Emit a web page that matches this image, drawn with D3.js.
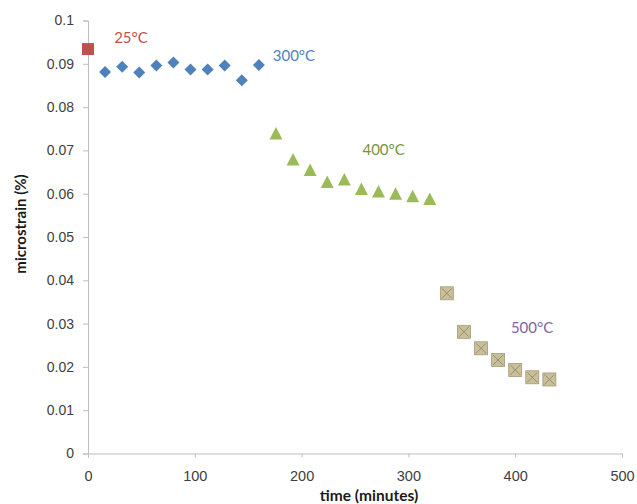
<!DOCTYPE html>
<html>
<head>
<meta charset="utf-8">
<script src="https://cdn.jsdelivr.net/npm/d3@7"></script>
<style>
  body { margin: 0; background: #fff; }
  svg { display: block; font-family: Lato, "Open Sans", sans-serif; }
</style>
</head>
<body>
<svg id="chart" width="637" height="504"></svg>
<script>
const svg = d3.select("#chart");

// data
const t25 = [0];
const s25 = [0.0934];

const t300 = [16, 32, 48, 64, 80, 96, 112, 128, 144, 160];
const s300 = [0.0881, 0.0893, 0.0880, 0.0896, 0.0903, 0.0887, 0.0887, 0.0896, 0.0862, 0.0897];

const t400 = [176, 192, 208, 224, 240, 256, 272, 288, 304, 320];
const s400 = [0.0739, 0.0679, 0.0655, 0.0627, 0.0633, 0.0611, 0.0605, 0.0600, 0.0594, 0.0588];

const t500 = [336, 352, 368, 384, 400, 416, 432];
const s500 = [0.0370, 0.0281, 0.0243, 0.0216, 0.0193, 0.0176, 0.0171];

const xTicks = [0, 100, 200, 300, 400, 500];
const yTicks = [0, 0.01, 0.02, 0.03, 0.04, 0.05, 0.06, 0.07, 0.08, 0.09, 0.1];

const labelText = ["25°C", "300°C", "400°C", "500°C"];
const labelT = [24.5, 173, 257, 396];
const labelS = [0.0957, 0.0916, 0.0699, 0.0288];
const labelColor = ["#c0504d", "#4f81bd", "#77933c", "#8064a2"];

const x = d3.scaleLinear().domain([0, 500]).range([88, 622]);
const y = d3.scaleLinear().domain([0, 0.1]).range([453.5, 20.5]);

const AXIS_COLOR = "#bfbfbf";
const TEXT_COLOR = "#404040";

// y axis
const yAxis = svg.append("g")
    .attr("transform", `translate(${x(0)},0)`)
    .call(d3.axisLeft(y).tickValues(yTicks).tickSize(5).tickPadding(9)
        .tickFormat(d => d3.format("~g")(d)));
yAxis.selectAll("path, line").attr("stroke", AXIS_COLOR);
yAxis.selectAll("text").attr("fill", TEXT_COLOR).style("font-size", "14px");

// x axis
const xAxis = svg.append("g")
    .attr("transform", `translate(0,${y(0)})`)
    .call(d3.axisBottom(x).tickValues(xTicks).tickSize(4).tickPadding(13));
xAxis.selectAll("path, line").attr("stroke", AXIS_COLOR);
xAxis.selectAll("text").attr("fill", TEXT_COLOR).style("font-size", "14.5px");

// axis titles
svg.append("text")
    .attr("transform", `translate(22,224) rotate(-90)`)
    .attr("text-anchor", "middle")
    .attr("dominant-baseline", "middle")
    .attr("fill", "#1a1a1a")
    .style("font-size", "15px")
    .style("font-weight", "bold")
    .text("microstrain (%)");

svg.append("text")
    .attr("x", 369)
    .attr("y", 501)
    .attr("text-anchor", "middle")
    .attr("fill", "#1a1a1a")
    .style("font-size", "15.5px")
    .style("font-weight", "bold")
    .text("time (minutes)");

const plot = svg.append("g");

// 25°C red square
plot.selectAll(".p25")
    .data(d3.zip(t25, s25))
    .join("rect")
    .attr("class", "p25")
    .attr("x", d => x(d[0]) - 6)
    .attr("y", d => y(d[1]) - 6)
    .attr("width", 12)
    .attr("height", 12)
    .attr("fill", "#c0504d");

// 300°C blue diamonds
plot.selectAll(".p300")
    .data(d3.zip(t300, s300))
    .join("path")
    .attr("class", "p300")
    .attr("transform", d => `translate(${x(d[0])},${y(d[1])})`)
    .attr("d", "M0,-6L6,0L0,6L-6,0Z")
    .attr("fill", "#4f81bd");

// 400°C green triangles
plot.selectAll(".p400")
    .data(d3.zip(t400, s400))
    .join("path")
    .attr("class", "p400")
    .attr("transform", d => `translate(${x(d[0])},${y(d[1])})`)
    .attr("d", "M0,-6.5L6.5,6L-6.5,6Z")
    .attr("fill", "#9bbb59");

// 500°C tan squares with an x
const g500 = plot.selectAll(".p500")
    .data(d3.zip(t500, s500))
    .join("g")
    .attr("class", "p500")
    .attr("transform", d => `translate(${x(d[0])},${y(d[1])})`);
g500.append("rect")
    .attr("x", -6.5).attr("y", -6.5)
    .attr("width", 13).attr("height", 13)
    .attr("fill", "#c9bf98")
    .attr("stroke", "#a39a7a")
    .attr("stroke-width", 0.8);
g500.append("path")
    .attr("d", "M-5,-5L5,5M5,-5L-5,5")
    .attr("stroke", "#8f8870")
    .attr("stroke-width", 0.9);

// temperature labels
svg.selectAll(".lbl")
    .data(d3.range(labelText.length))
    .join("text")
    .attr("class", "lbl")
    .attr("x", i => x(labelT[i]))
    .attr("y", i => y(labelS[i]))
    .attr("dominant-baseline", "middle")
    .attr("fill", i => labelColor[i])
    .style("font-size", "15px")
    .text(i => labelText[i]);
</script>
</body>
</html>
